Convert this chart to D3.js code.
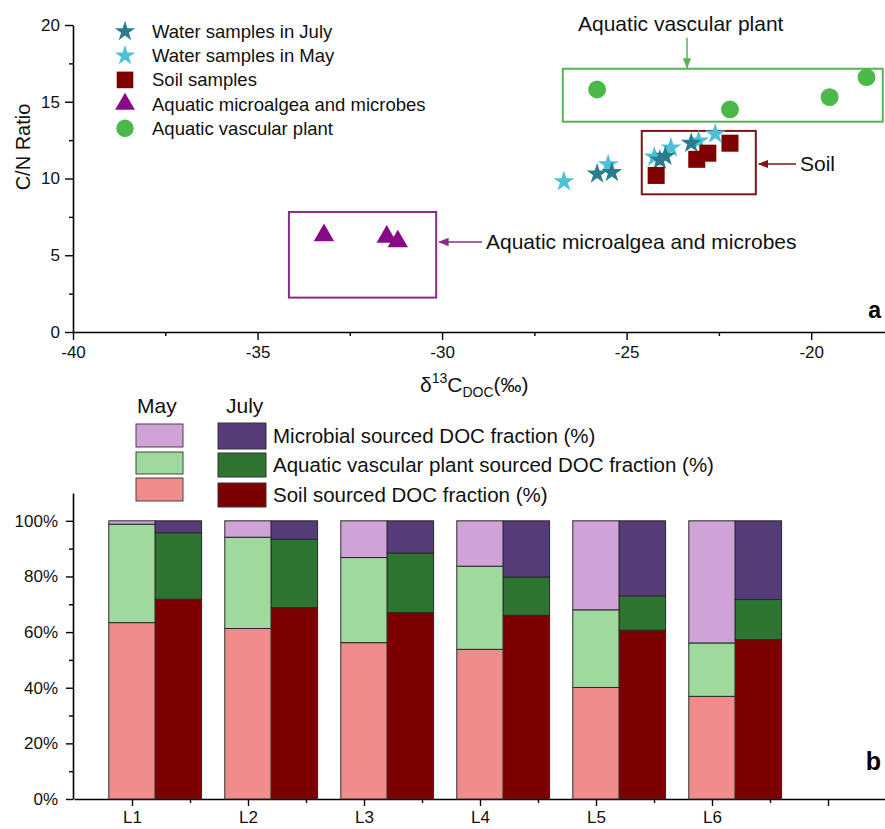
<!DOCTYPE html>
<html>
<head>
<meta charset="utf-8">
<script src="https://cdn.jsdelivr.net/npm/d3@7"></script>
<style>
  body { margin: 0; background: #fff; }
  svg { font-family: "Liberation Sans", Arial, sans-serif; display: block; }
</style>
</head>
<body>
<div id="plot"></div>
<script>
// ---- panel a: [d13C, C/N] ----
const waterJuly = [[-25.8, 10.3], [-25.4, 10.4], [-24.1, 11.2], [-23.95, 11.45], [-23.25, 12.3]];
const waterMay = [[-26.7, 9.8], [-25.5, 10.9], [-24.25, 11.4], [-23.8, 12.0], [-23.05, 12.45], [-22.6, 12.9]];
const soilSamples = [[-24.2, 10.2], [-23.1, 11.25], [-22.8, 11.65], [-22.2, 12.3]];
const algae = [[-33.2, 6.3], [-31.5, 6.2], [-31.2, 5.9]];
const vascular = [[-25.8, 15.8], [-22.2, 14.5], [-19.5, 15.3], [-18.5, 16.6]];
const xTicksA = [-40, -35, -30, -25, -20];
const yTicksA = [0, 5, 10, 15, 20];

// group boxes in data units: [x0, x1, y0, y1]
const boxPlant = [-26.73, -18.06, 13.7, 17.15];
const boxSoil = [-24.59, -21.5, 8.97, 13.1];
const boxAlgae = [-34.15, -30.16, 2.24, 7.82];

// ---- panel b: DOC fractions (%) ----
const sites = ["L1", "L2", "L3", "L4", "L5", "L6"];
const maySoil = [63.4, 61.3, 56.2, 53.8, 40.1, 36.9];
const mayPlant = [35.4, 32.8, 30.6, 29.9, 27.9, 19.2];
const mayMicro = [1.2, 5.9, 13.2, 16.3, 32.0, 43.9];
const julySoil = [71.8, 68.8, 67.0, 66.0, 60.7, 57.3];
const julyPlant = [23.9, 24.6, 21.4, 13.8, 12.3, 14.4];
const julyMicro = [4.3, 6.6, 11.6, 20.2, 27.0, 28.3];
const yTicksB = [0, 20, 40, 60, 80, 100];

const W = 885, H = 829;
const col = {
  july: "#2a7d8c", may: "#4cc2d8", soil: "#7f0000", algae: "#870a87", plant: "#4bb84a",
  plantBox: "#55b555", soilBox: "#7d1515", algaeBox: "#8a2a8a",
  mSoil: "#f08d8c", mPlant: "#a0d99e", mMicro: "#d0a3d8",
  jSoil: "#7d0000", jPlant: "#2e7431", jMicro: "#553b78"
};

const svg = d3.select("#plot").append("svg")
  .attr("width", W).attr("height", H);

const defs = svg.append("defs");
[["arPlant", col.plantBox], ["arSoil", col.soilBox], ["arAlgae", col.algaeBox]].forEach(([id, c]) => {
  defs.append("marker").attr("id", id)
    .attr("viewBox", "0 0 10 10").attr("refX", 9).attr("refY", 5)
    .attr("markerWidth", 7).attr("markerHeight", 7).attr("orient", "auto")
    .append("path").attr("d", "M0,1 L10,5 L0,9 Z").attr("fill", c);
});

// ================= panel a =================
const xA = d3.scaleLinear().domain([-40, -18]).range([73, 885]);
const yA = d3.scaleLinear().domain([0, 20]).range([332, 25]);

function styleAxis(g) {
  g.selectAll("path.domain").attr("stroke", "#000").attr("stroke-width", 1.6);
  g.selectAll(".tick line").attr("stroke", "#000").attr("stroke-width", 1.4);
  g.selectAll("text").attr("fill", "#111").attr("font-size", 17)
    .attr("font-family", "Liberation Sans, Arial, sans-serif");
}

const gxA = svg.append("g").attr("transform", `translate(0,${yA(0)})`)
  .call(d3.axisBottom(xA).tickValues(xTicksA).tickSize(8).tickSizeOuter(0).tickPadding(6).tickFormat(d => String(d)));
svg.append("g").attr("transform", `translate(0,${yA(0)})`)
  .call(d3.axisBottom(xA).tickValues([-37.5, -32.5, -27.5, -22.5]).tickSize(4).tickSizeOuter(0).tickFormat(""))
  .call(g => g.select(".domain").remove()).call(styleAxis);
styleAxis(gxA);

const gyA = svg.append("g").attr("transform", `translate(${xA(-40)},0)`)
  .call(d3.axisLeft(yA).tickValues(yTicksA).tickSize(8).tickSizeOuter(0).tickPadding(5));
svg.append("g").attr("transform", `translate(${xA(-40)},0)`)
  .call(d3.axisLeft(yA).tickValues([2.5, 7.5, 12.5, 17.5]).tickSize(4).tickSizeOuter(0).tickFormat(""))
  .call(g => g.select(".domain").remove()).call(styleAxis);
styleAxis(gyA);

// axis titles
svg.append("text").attr("transform", "translate(30,147) rotate(-90)")
  .attr("text-anchor", "middle").attr("font-size", 20).attr("fill", "#111").text("C/N Ratio");

const xt = svg.append("text").attr("x", 420).attr("y", 392).attr("font-size", 21).attr("fill", "#111");
xt.append("tspan").text("\u03b4");
xt.append("tspan").attr("dy", -9).attr("font-size", 14).text("13");
xt.append("tspan").attr("dy", 9).text("C");
xt.append("tspan").attr("dy", 5).attr("font-size", 14).text("DOC");
xt.append("tspan").attr("dy", -5).text("(\u2030)");

svg.append("text").attr("x", 881).attr("y", 318).attr("text-anchor", "end")
  .attr("font-size", 23).attr("font-weight", "bold").text("a");

// boxes
function box(b, c) {
  svg.append("rect")
    .attr("x", xA(b[0])).attr("y", yA(b[3]))
    .attr("width", xA(b[1]) - xA(b[0])).attr("height", yA(b[2]) - yA(b[3]))
    .attr("fill", "none").attr("stroke", c).attr("stroke-width", 2);
}
box(boxPlant, col.plantBox);
box(boxSoil, col.soilBox);
box(boxAlgae, col.algaeBox);

// annotations
svg.append("line").attr("x1", 687).attr("y1", 38).attr("x2", 687).attr("y2", yA(boxPlant[3]) - 1)
  .attr("stroke", col.plantBox).attr("stroke-width", 1.5).attr("marker-end", "url(#arPlant)");
svg.append("text").attr("x", 578).attr("y", 31).attr("font-size", 21).attr("fill", "#111").text("Aquatic vascular plant");

svg.append("line").attr("x1", 796).attr("y1", 164).attr("x2", xA(boxSoil[1]) + 3).attr("y2", 164)
  .attr("stroke", col.soilBox).attr("stroke-width", 1.5).attr("marker-end", "url(#arSoil)");
svg.append("text").attr("x", 800).attr("y", 164).attr("dy", "0.35em").attr("font-size", 21).attr("fill", "#111").text("Soil");

svg.append("line").attr("x1", 482).attr("y1", 242).attr("x2", xA(boxAlgae[1]) + 3).attr("y2", 242)
  .attr("stroke", col.algaeBox).attr("stroke-width", 1.5).attr("marker-end", "url(#arAlgae)");
svg.append("text").attr("x", 486).attr("y", 242).attr("dy", "0.35em").attr("font-size", 21).attr("fill", "#111").text("Aquatic microalgea and microbes");

// points
const series = [
  { data: waterMay, sym: d3.symbolStar, size: 135, c: col.may, label: "Water samples in May" },
  { data: waterJuly, sym: d3.symbolStar, size: 135, c: col.july, label: "Water samples in July" },
  { data: soilSamples, sym: d3.symbolSquare, size: 290, c: col.soil, label: "Soil samples" },
  { data: algae, sym: d3.symbolTriangle, size: 180, c: col.algae, label: "Aquatic microalgea and microbes" },
  { data: vascular, sym: d3.symbolCircle, size: 250, c: col.plant, label: "Aquatic vascular plant" }
];
series.forEach(s => {
  svg.append("g").selectAll("path").data(s.data).enter().append("path")
    .attr("transform", d => `translate(${xA(d[0])},${yA(d[1])})`)
    .attr("d", d3.symbol(s.sym, s.size)())
    .attr("fill", s.c);
});

// legend a
const legOrder = [series[1], series[0], series[2], series[3], series[4]];
const legA = svg.append("g");
legOrder.forEach((s, i) => {
  const y = 31.5 + i * 24.2;
  legA.append("path").attr("transform", `translate(125,${y})`)
    .attr("d", d3.symbol(s.sym, s.size * 0.95)()).attr("fill", s.c);
  legA.append("text").attr("x", 152).attr("y", y).attr("dy", "0.35em")
    .attr("font-size", 18.5).attr("fill", "#111").text(s.label);
});

// ================= panel b =================
const xB = d3.scaleLinear().domain([0.5, 7.5]).range([74, 886]);
const yB = d3.scaleLinear().domain([0, 110]).range([799, 493]);

const gxB = svg.append("g").attr("transform", `translate(0,${yB(0)})`)
  .call(d3.axisBottom(xB).tickValues([1, 2, 3, 4, 5, 6, 7]).tickSize(7).tickSizeOuter(0).tickPadding(5)
    .tickFormat(d => sites[d - 1] || ""));
svg.append("g").attr("transform", `translate(0,${yB(0)})`)
  .call(d3.axisBottom(xB).tickValues([1.5, 2.5, 3.5, 4.5, 5.5, 6.5, 7.5]).tickSize(4).tickSizeOuter(0).tickFormat(""))
  .call(g => g.select(".domain").remove()).call(styleAxis);
styleAxis(gxB);

const gyB = svg.append("g").attr("transform", `translate(${xB(0.5) - 1},0)`)
  .call(d3.axisLeft(yB).tickValues(yTicksB).tickSize(7).tickSizeOuter(0).tickPadding(8).tickFormat(d => d + "%"));
svg.append("g").attr("transform", `translate(${xB(0.5) - 1},0)`)
  .call(d3.axisLeft(yB).tickValues([10, 30, 50, 70, 90]).tickSize(4).tickSizeOuter(0).tickFormat(""))
  .call(g => g.select(".domain").remove()).call(styleAxis);
styleAxis(gyB);

const keys = ["soil", "plant", "micro"];
const mayRows = sites.map((s, i) => ({ i: i + 1, soil: maySoil[i], plant: mayPlant[i], micro: mayMicro[i] }));
const julyRows = sites.map((s, i) => ({ i: i + 1, soil: julySoil[i], plant: julyPlant[i], micro: julyMicro[i] }));
const stack = d3.stack().keys(keys);
const barW = 0.4;

function drawBars(rows, offset, colors) {
  stack(rows).forEach((layer, k) => {
    svg.append("g").selectAll("rect").data(layer).enter().append("rect")
      .attr("x", d => xB(d.data.i + offset - barW / 2))
      .attr("width", xB(1 + barW) - xB(1))
      .attr("y", d => yB(d[1]))
      .attr("height", d => yB(d[0]) - yB(d[1]))
      .attr("fill", colors[k])
      .attr("stroke", "#2a2a2a").attr("stroke-width", 1);
  });
}
drawBars(mayRows, 0, [col.mSoil, col.mPlant, col.mMicro]);
drawBars(julyRows, barW, [col.jSoil, col.jPlant, col.jMicro]);

svg.append("text").attr("x", 881).attr("y", 770).attr("text-anchor", "end")
  .attr("font-size", 25).attr("font-weight", "bold").text("b");

// legend b
const legB = svg.append("g");
legB.append("text").attr("x", 137).attr("y", 413).attr("font-size", 21).attr("fill", "#111").text("May");
legB.append("text").attr("x", 226).attr("y", 413).attr("font-size", 21).attr("fill", "#111").text("July");
const mayLeg = [[col.mMicro, 424, 447], [col.mPlant, 452, 474], [col.mSoil, 478, 501]];
const julyLeg = [[col.jMicro, 423, 449], [col.jPlant, 453, 477], [col.jSoil, 483, 507]];
const legText = ["Microbial sourced DOC fraction (%)", "Aquatic vascular plant sourced DOC fraction (%)", "Soil sourced DOC fraction (%)"];
mayLeg.forEach(([c, y0, y1]) => {
  legB.append("rect").attr("x", 136).attr("y", y0).attr("width", 47).attr("height", y1 - y0)
    .attr("fill", c).attr("stroke", "#444").attr("stroke-width", 1);
});
julyLeg.forEach(([c, y0, y1], i) => {
  legB.append("rect").attr("x", 218).attr("y", y0).attr("width", 48).attr("height", y1 - y0)
    .attr("fill", c).attr("stroke", "#333").attr("stroke-width", 1);
  legB.append("text").attr("x", 273).attr("y", (y0 + y1) / 2).attr("dy", "0.35em")
    .attr("font-size", 20.5).attr("fill", "#111").text(legText[i]);
});
</script>
</body>
</html>
